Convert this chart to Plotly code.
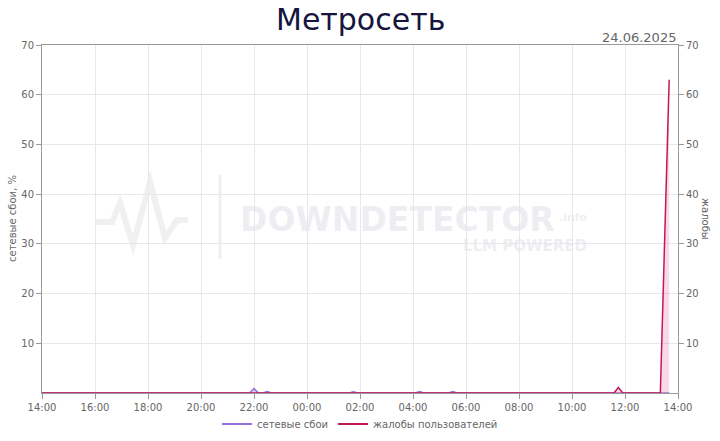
import plotly.graph_objects as go

# ---- data ----
outage_times = ["2025-06-23 14:00", "2025-06-23 21:50", "2025-06-23 22:00", "2025-06-23 22:10",
                "2025-06-23 22:20", "2025-06-23 22:30", "2025-06-23 22:40",
                "2025-06-24 01:35", "2025-06-24 01:45", "2025-06-24 01:55",
                "2025-06-24 04:05", "2025-06-24 04:15", "2025-06-24 04:25",
                "2025-06-24 05:20", "2025-06-24 05:30", "2025-06-24 05:40",
                "2025-06-24 13:40"]
outage_vals = [0, 0, 0.9, 0, 0, 0.3, 0, 0, 0.25, 0, 0, 0.3, 0, 0, 0.3, 0, 0]

complaint_times = ["2025-06-23 14:00", "2025-06-24 11:35", "2025-06-24 11:45", "2025-06-24 11:55",
                   "2025-06-24 13:20", "2025-06-24 13:40"]
complaint_vals = [0, 0, 1.1, 0, 0, 63]

x_range = ["2025-06-23 14:00", "2025-06-24 14:00"]
y_ticks = [10, 20, 30, 40, 50, 60, 70]

title_text = "Метросеть"
date_text = "24.06.2025"
series_names = ["сетевые сбои", "жалобы пользователей"]
left_title = "сетевые сбои, %"
right_title = "жалобы"

FONT = "DejaVu Sans"
GREY = "#666666"
PURPLE = "#9370DB"
CRIMSON = "#C2185B"

fig = go.Figure()
fig.add_trace(go.Scatter(
    x=outage_times, y=outage_vals, name=series_names[0], mode="lines", showlegend=False,
    line=dict(color=PURPLE, width=1.5), fill="tozeroy",
    fillcolor="rgba(147,112,219,0.3)"))
fig.add_trace(go.Scatter(
    x=complaint_times, y=complaint_vals, name=series_names[1], mode="lines", showlegend=False,
    line=dict(color=CRIMSON, width=1.5), fill="tozeroy",
    fillcolor="rgba(230,100,160,0.25)", yaxis="y2"))
# legend entries (line style only)
fig.add_trace(go.Scatter(x=[None], y=[None], name=series_names[0], mode="lines",
                         line=dict(color=PURPLE, width=2)))
fig.add_trace(go.Scatter(x=[None], y=[None], name=series_names[1], mode="lines",
                         line=dict(color=CRIMSON, width=2)))

L, R, T, B = 42, 42, 45, 48
W, H = 720, 441
pw, ph = W - L - R, H - T - B

def px(xp):
    return (xp - L) / pw

def py(yp):
    return (H - B - yp) / ph

# watermark logo (decoration)
WM = "rgba(228,228,234,0.55)"
WMT = "rgba(228,228,234,0.6)"
logo = [(95, 222), (112, 222), (120, 203), (133, 245), (150, 182), (165, 238), (177, 220), (188, 220)]
path = "M " + " L ".join(f"{px(a):.4f},{py(b):.4f}" for a, b in logo)
shapes = [
    dict(type="path", path=path, xref="paper", yref="paper", layer="below",
         line=dict(color=WM, width=6)),
    dict(type="line", x0=px(220), x1=px(220), y0=py(175), y1=py(259), xref="paper", yref="paper",
         layer="below", line=dict(color=WM, width=3)),
]

annotations = [
    dict(text=title_text, x=0.5, xref="paper", xanchor="center", y=py(20), yref="paper",
         yanchor="middle", showarrow=False, font=dict(family=FONT, size=30, color="#15153d")),
    dict(text=date_text, x=px(678), xref="paper", xanchor="right", y=py(37), yref="paper",
         yanchor="middle", showarrow=False, font=dict(family=FONT, size=13, color=GREY)),
    dict(text=right_title, textangle=90, x=px(706), xref="paper", xanchor="center",
         y=py(219), yref="paper", yanchor="middle", showarrow=False,
         font=dict(family=FONT, size=10, color=GREY)),
    dict(text=left_title, textangle=-90, x=px(12), xref="paper", xanchor="center",
         y=py(219), yref="paper", yanchor="middle", showarrow=False,
         font=dict(family=FONT, size=10, color=GREY)),
    dict(text="<b>DOWNDETECTOR</b>", x=px(238), xref="paper", xanchor="left", y=py(219),
         yref="paper", yanchor="middle", showarrow=False,
         font=dict(family=FONT, size=33, color=WMT)),
    dict(text="<b>.info</b>", x=px(557), xref="paper", xanchor="left", y=py(226),
         yref="paper", yanchor="bottom", showarrow=False,
         font=dict(family=FONT, size=11, color=WMT)),
    dict(text="<b>LLM POWERED</b>", x=px(589), xref="paper", xanchor="right", y=py(246),
         yref="paper", yanchor="middle", showarrow=False,
         font=dict(family=FONT, size=15, color=WMT)),
]

axis_common = dict(showline=True, linecolor="#999999", linewidth=1, ticks="outside",
                   ticklen=5, tickcolor="#999999", gridcolor="#e8e8e8", zeroline=False,
                   automargin=False, tickfont=dict(family=FONT, size=10, color=GREY))

fig.update_layout(
    width=W, height=H, margin=dict(l=L, r=R, t=T, b=B, autoexpand=False),
    paper_bgcolor="white", plot_bgcolor="white",
    font=dict(family=FONT, color=GREY),
    showlegend=True,
    legend=dict(orientation="h", x=0.5, xanchor="center", y=py(424), yanchor="middle",
                font=dict(family=FONT, size=10, color=GREY), bgcolor="rgba(0,0,0,0)"),
    xaxis=dict(range=x_range, tickformat="%H:%M", dtick=2 * 3600 * 1000,
               tick0="2025-06-23 14:00", mirror=True, **axis_common),
    yaxis=dict(range=[0, 70], tickvals=y_ticks, mirror=False, **axis_common),
    yaxis2=dict(range=[0, 70], tickvals=y_ticks, overlaying="y", side="right",
                showgrid=False, **axis_common),
    shapes=shapes,
    annotations=annotations,
)

fig.write_html("out.html", config={"displayModeBar": False},
               post_script="document.body.style.margin='0';document.body.style.padding='0';")
